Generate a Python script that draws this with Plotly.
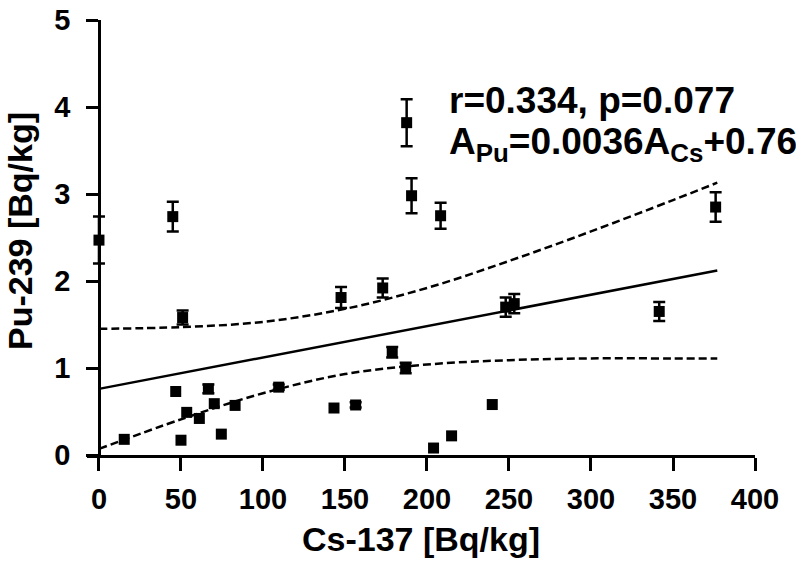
import plotly.graph_objects as go

# Data
cs137 = [0, 45, 51, 46.8, 66.7, 70.3, 53.5, 61.2, 15.4, 50, 74.6, 83, 109.6,
         187.6, 190.6, 208.3, 147.6, 173, 178.8, 187, 248, 253.2, 143.3,
         156.5, 239.8, 215, 204, 376, 341.6]
pu239 = [2.47, 2.74, 1.58, 0.73, 0.76, 0.59, 0.49, 0.42, 0.18, 0.17, 0.24, 0.57, 0.78,
         3.82, 2.98, 2.75, 1.81, 1.92, 1.18, 1.00, 1.70, 1.74, 0.54,
         0.575, 0.58, 0.22, 0.08, 2.85, 1.65]
pu_err = [0.27, 0.17, 0.08, 0, 0.05, 0, 0, 0, 0, 0, 0, 0, 0.03,
          0.27, 0.2, 0.15, 0.12, 0.11, 0.06, 0.06, 0.11, 0.11, 0,
          0.03, 0, 0, 0, 0.17, 0.11]

fit_x = [0, 377]
fit_y = [0.76, 2.12]

band_x = [0, 50, 100, 150, 200, 250, 300, 350, 377]
band_upper = [1.45, 1.47, 1.53, 1.68, 1.92, 2.23, 2.57, 2.93, 3.13]
band_lower = [0.07, 0.41, 0.71, 0.93, 1.04, 1.09, 1.11, 1.11, 1.11]

x_ticks = [0, 50, 100, 150, 200, 250, 300, 350, 400]
y_ticks = [0, 1, 2, 3, 4, 5]

FONT = "Liberation Sans, Arial, sans-serif"

fig = go.Figure()

for yb in (band_upper, band_lower):
    fig.add_trace(go.Scatter(x=band_x, y=yb, mode="lines", line_shape="spline",
                             line=dict(color="black", width=2.5, dash="8px,4px"),
                             showlegend=False, hoverinfo="skip"))

fig.add_trace(go.Scatter(x=fit_x, y=fit_y, mode="lines",
                         line=dict(color="black", width=2.5), showlegend=False))

ex = [x for x, e in zip(cs137, pu_err) if e > 0]
ey = [y for y, e in zip(pu239, pu_err) if e > 0]
ee = [e for e in pu_err if e > 0]
nx = [x for x, e in zip(cs137, pu_err) if e == 0]
ny = [y for y, e in zip(pu239, pu_err) if e == 0]

fig.add_trace(go.Scatter(x=ex, y=ey, mode="markers",
                         marker=dict(symbol="square", size=11, color="black"),
                         error_y=dict(type="data", array=ee, visible=True,
                                      color="black", thickness=2.5, width=6),
                         showlegend=False, cliponaxis=False))
fig.add_trace(go.Scatter(x=nx, y=ny, mode="markers",
                         marker=dict(symbol="square", size=11, color="black"),
                         showlegend=False, cliponaxis=False))

fig.add_annotation(x=212, y=4.08, xref="x", yref="y", xanchor="left", yanchor="middle",
                   text="r=0.334, p=0.077", showarrow=False,
                   font=dict(family=FONT, size=37, color="black", weight="bold"))
fig.add_annotation(x=212, y=3.58, xref="x", yref="y", xanchor="left", yanchor="middle",
                   text="A<sub>Pu</sub>=0.0036A<sub>Cs</sub>+0.76", showarrow=False,
                   font=dict(family=FONT, size=37, color="black", weight="bold"))

# y-axis title placed as rotated text
fig.add_annotation(x=(20 - 87) / 668, y=(455 - 231) / 435, xref="paper", yref="paper",
                   xanchor="center", yanchor="middle", textangle=-90,
                   text="Pu-239 [Bq/kg]", showarrow=False,
                   font=dict(family=FONT, size=34, color="black", weight="bold"))

fig.update_layout(
    width=796, height=568,
    margin=dict(l=87, r=41, t=20, b=113),
    paper_bgcolor="white", plot_bgcolor="white",
    font=dict(family=FONT, color="black"),
    xaxis=dict(range=[-7.3, 400], tickvals=x_ticks, ticktext=[str(v) for v in x_ticks],
               automargin=False,
               showline=True, linecolor="black", linewidth=2.5,
               ticks="outside", ticklen=13, tickwidth=2.5, tickcolor="black",
               showgrid=False, zeroline=False,
               tickfont=dict(family=FONT, size=29, color="black", weight="bold"),
               ticklabelstandoff=3,
               title=dict(text="Cs-137 [Bq/kg]", standoff=14,
                          font=dict(family=FONT, size=34, color="black", weight="bold"))),
    yaxis=dict(range=[0, 5], tickvals=y_ticks, ticktext=[str(v) for v in y_ticks],
               automargin=False,
               anchor="free", position=12 / 668,
               showline=True, linecolor="black", linewidth=2.5,
               ticks="outside", ticklen=12, tickwidth=2.5, tickcolor="black",
               showgrid=False, zeroline=False,
               tickfont=dict(family=FONT, size=29, color="black", weight="bold"),
               ticklabelstandoff=10),
)

fig.write_html("out.html", config={"displayModeBar": False},
               post_script="document.body.style.margin='0px';document.body.style.overflow='hidden';")
